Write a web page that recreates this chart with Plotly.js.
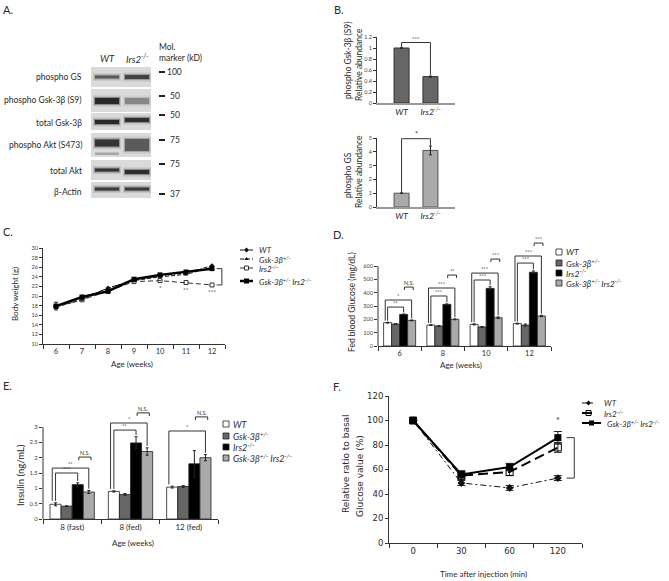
<!DOCTYPE html>
<html><head><meta charset="utf-8">
<script src="https://cdn.plot.ly/plotly-3.0.1.min.js"></script>
<style>html,body{margin:0;padding:0;background:#fff}#chart{width:669px;height:581px}</style>
</head><body><div id="chart"></div>
<script>
// ================= DATA =================
// A: western blot
const blotRows=['phospho GS','phospho Gsk-3β (S9)','total Gsk-3β','phospho Akt (S473)','total Akt','β-Actin'];
const blotLanes=['WT','Irs2<sup>-/-</sup>'];
const markerKD=['100','50','50','75','75','37'];
const bandWT=[0.6,0.95,0.95,0.85,0.85,0.8];
const bandIrs2=[0.75,0.35,0.9,0.6,0.9,0.8];
// B
const bGroups=['WT','Irs2<sup>-/-</sup>'];
const bGsk=[1.0,0.48], bGskErr=[0,0.01];
const bGS=[1.0,4.1], bGSErr=[0,0.32];
// C
const cAges=['6','7','8','9','10','11','12'];
const cWT=[17.8,19.6,21.6,23.3,24.2,24.8,26.3];
const cGsk=[17.7,19.2,21.7,23.2,24.0,24.5,26.0];
const cIrs2=[17.8,19.2,21.0,23.0,23.2,22.8,22.3];
const cDbl=[17.9,19.8,21.0,23.5,24.4,25.0,25.7];
const cDblErr=[0.8,0.3,0.3,0.3,0.3,0.3,0.3];
const cSig=['','','','','*','**','***'];
// D
const dAges=['6','8','10','12'];
const dWT=[175,157,162,168], dWTErr=[3,3,4,3];
const dGsk=[165,150,143,157], dGskErr=[2,2,3,8];
const dIrs2=[237,312,432,553], dIrs2Err=[3,4,12,10];
const dDbl=[192,200,212,225], dDblErr=[3,3,6,5];
const dBrGroup=[0,0,0,1,1,1,2,2,2,3,3,3];
const dBrFrom=[0,0,2,0,0,2,0,0,2,0,0,2];
const dBrTo=[2,3,3,2,3,3,2,3,3,2,3,3];
const dBrLevel=[292,345,442,375,435,532,495,547,652,622,675,772];
const dBrLabel=['**','*','N.S.','***','***','**','***','***','***','***','***','***'];
// E
const eGroups=['8 (fast)','8 (fed)','12 (fed)'];
const eWT=[0.48,0.90,1.04], eWTErr=[0.05,0.02,0.03];
const eGsk=[0.42,0.80,1.06], eGskErr=[0.01,0.03,0.03];
const eIrs2=[1.12,2.48,1.80], eIrs2Err=[0.06,0.20,0.43];
const eDbl=[0.88,2.20,2.00], eDblErr=[0.05,0.12,0.10];
const eBrGroup=[0,0,0,1,1,1,2,2];
const eBrFrom=[0,0,2,0,0,2,0,2];
const eBrTo=[2,3,3,2,3,3,3,3];
const eBrLevel=[1.50,1.66,2.02,2.90,3.13,3.46,2.87,3.33];
const eBrLabel=['***','**','N.S.','**','*','N.S.','*','N.S.'];
// F
const fTimes=['0','30','60','120'];
const fWT=[100,49,45,53], fWTErr=[0,2,2,2];
const fIrs2=[100,55,58,78], fIrs2Err=[0,3,3,4];
const fDbl=[100,56,62,86], fDblErr=[0,3,3,5];
const fSig=['','','','*'];
// series names
const nWT='WT', nGsk='Gsk-3β<sup>+/-</sup>', nIrs2='Irs2<sup>-/-</sup>', nDbl='Gsk-3β<sup>+/-</sup> Irs2<sup>-/-</sup>';

// ================= HELPERS =================
const W=669,H=581, fx=p=>p/W, fy=p=>1-p/H;
const FONT='Lato, "Liberation Sans", Arial, sans-serif';
const VFONT='"DejaVu Sans", Verdana, sans-serif';
const INK='#2a2a2a';
const traces=[], shapes=[], ann=[];
const idx=a=>a.map((_,i)=>i);
const it=s=>'<i>'+s+'</i>';

function txt(text,x,y,opt={}){
  const f=Object.assign({family:FONT,size:8.5,color:INK},opt.font||{});
  const a=Object.assign({text,x:fx(x),y:fy(y),xref:'paper',yref:'paper',showarrow:false,xanchor:'center',yanchor:'middle',borderpad:0},opt);
  a.font=f; ann.push(a);
}
function seg(xr,yr,x0,y0,x1,y1,w=1,c='#333'){shapes.push({type:'line',xref:xr,yref:yr,x0,y0,x1,y1,line:{color:c,width:w},layer:'above'});}
function rectP(x0,y0,x1,y1,color,op){shapes.push({type:'rect',xref:'paper',yref:'paper',x0:fx(x0),x1:fx(x1),y0:fy(y1),y1:fy(y0),fillcolor:color,opacity:op,line:{width:0},layer:'above'});}
function sig(xr,yr,x,y,text,size=6,anchor='bottom'){ann.push({xref:xr,yref:yr,x,y,text,showarrow:false,xanchor:'center',yanchor:anchor,borderpad:0,yshift:anchor==='bottom'?0:0,font:{family:FONT,size,color:'#333'}});}
function bracket(xr,yr,xa,ya,xb,yb,level,label,size){
  seg(xr,yr,xa,ya,xa,level); seg(xr,yr,xa,level,xb,level); seg(xr,yr,xb,level,xb,yb);
  if(label) sig(xr,yr,(xa+xb)/2,level,label,size);
}

// ================= PANEL LABELS =================
txt('A.',2,10,{xanchor:'left',font:{size:11}});
txt('B.',333,10,{xanchor:'left',font:{size:11}});
txt('C.',2,231,{xanchor:'left',font:{size:11}});
txt('D.',332,234,{xanchor:'left',font:{size:11}});
txt('E.',2,385,{xanchor:'left',font:{size:11}});
txt('F.',332,386,{xanchor:'left',font:{size:11}});

// ================= PANEL A (blot) =================
const blot={x0:91,x1:151,lanes:[107,137],half:13,
  rows:[[67,87],[89,112],[113,130],[133,157],[160,180],[182,198]],
  bandY:[[77,77],[101,101],[122,120],[143,145],[170,172],[189,189]],
  bandH:[[1.5,2],[3,3],[2,2],[3.5,6],[1.5,2],[1.5,1.5]],
  labelY:[77,100,123,145,171,192], kdY:[72,96,115,140,164,194]};
blot.rows.forEach((r,i)=>{
  rectP(blot.x0,r[0],blot.x1,r[1],'#dadada',1);
  const ints=[bandWT[i],bandIrs2[i]];
  blot.lanes.forEach((lx,j)=>{
    const yc=blot.bandY[i][j], h=blot.bandH[i][j], v=ints[j];
    rectP(lx-blot.half-1,yc-h-2.5,lx+blot.half+1,yc+h+2.5,'#555',0.2*v);
    rectP(lx-blot.half,yc-h-1,lx+blot.half,yc+h+1,'#333',0.4*v);
    rectP(lx-blot.half+1,yc-h,lx+blot.half-1,yc+h,'#111',0.85*v);
  });
  txt(blotRows[i],83,blot.labelY[i],{xanchor:'right',font:{size:8.5}});
  seg('paper','paper',fx(159),fy(blot.kdY[i]),fx(165),fy(blot.kdY[i]),2,'#222');
  txt(markerKD[i],markerKD[i].length>2?166:169,blot.kdY[i],{xanchor:'left',font:{size:8.5}});
});
rectP(95,152.5,119,155,'#333',0.3);
txt(it(blotLanes[0]),107,58,{font:{size:9.5}});
txt(it(blotLanes[1]),137,58,{font:{size:9.5}});
txt('Mol.',158,47,{xanchor:'left',font:{size:8.5}});
txt('marker (kD)',158,58,{xanchor:'left',font:{size:8.5}});

// ================= AXES =================
const axBase={showgrid:false,zeroline:false,showline:true,linecolor:'#333',linewidth:1,ticks:'outside',ticklen:3,tickwidth:1,tickcolor:'#333',fixedrange:true,tickfont:{family:FONT,size:6,color:'#333'}};
const ax=o=>Object.assign({},axBase,o);
const boundaries=n=>Array.from({length:n+1},(_,i)=>i-0.5);
const catX=(labels,dom,anchor,font)=>ax({domain:dom,range:[-0.5,labels.length-0.5],tickmode:'array',tickvals:idx(labels),ticktext:labels,ticklen:0,anchor,
  tickfont:font||{family:FONT,size:7.5,color:INK},minor:{tickmode:'array',tickvals:boundaries(labels.length),ticks:'outside',ticklen:4,tickcolor:'#333'}});

const layout={width:W,height:H,margin:{l:0,r:0,t:0,b:0},paper_bgcolor:'#fff',plot_bgcolor:'rgba(0,0,0,0)',showlegend:false,font:{family:FONT,color:INK},
  barmode:'overlay',
  xaxis: ax({domain:[fx(377),fx(455)],range:[-0.85,1.85],tickmode:'array',tickvals:[0,1],ticktext:bGroups.map(it),ticks:'',anchor:'y',linecolor:'#999',linewidth:1.5,tickfont:{family:FONT,size:8.5,color:INK}}),
  yaxis: ax({domain:[fy(103),fy(37)],range:[0,1.2],dtick:0.2,anchor:'x',tickfont:{family:FONT,size:5.5,color:'#444'}}),
  xaxis2: ax({domain:[fx(377),fx(455)],range:[-0.85,1.85],tickmode:'array',tickvals:[0,1],ticktext:bGroups.map(it),ticks:'',anchor:'y2',linecolor:'#999',linewidth:1.5,tickfont:{family:FONT,size:8.5,color:INK}}),
  yaxis2: ax({domain:[fy(207),fy(138)],range:[0,5],dtick:1,anchor:'x2',tickfont:{family:FONT,size:5.5,color:'#444'}}),
  xaxis3: catX(cAges,[fx(43),fx(225)],'y3'),
  yaxis3: ax({domain:[fy(344),fy(248)],range:[10,30],dtick:2,anchor:'x3',tickfont:{family:FONT,size:5.5,color:'#444'}}),
  xaxis4: catX(dAges,[fx(378),fx(551)],'y4'),
  yaxis4: ax({domain:[fy(346),fy(238)],range:[0,810],tickmode:'array',tickvals:[0,100,200,300,400,500,600],showline:false,anchor:'x4',tickfont:{family:FONT,size:5.5,color:'#444'}}),
  xaxis5: catX(eGroups,[fx(43),fx(218)],'y5',{family:FONT,size:8,color:INK}),
  yaxis5: ax({domain:[fy(519),fy(404)],range:[0,3.75],tickmode:'array',tickvals:[0,0.5,1,1.5,2,2.5,3],showline:false,anchor:'x5',tickfont:{family:FONT,size:6,color:'#444'}}),
  xaxis6: catX(fTimes,[fx(389),fx(582)],'y6',{family:VFONT,size:8.5,color:INK}),
  yaxis6: ax({domain:[fy(543),fy(396)],range:[0,120],dtick:20,anchor:'x6',tickfont:{family:VFONT,size:8.5,color:INK}}),
  xaxis7: {domain:[0,1],range:[0,W],visible:false,fixedrange:true,anchor:'y7'},
  yaxis7: {domain:[0,1],range:[H,0],visible:false,fixedrange:true,anchor:'x7'},
  shapes, annotations:ann};
// axis lines for D and E stop at the last tick
seg('x4 domain','y4',0,0,0,600,1,'#333');
seg('x5 domain','y5',0,0,0,3,1,'#333');

const err=(a,w=2)=>({type:'data',array:a,visible:true,color:'#222',thickness:1,width:w});

// ================= PANEL B =================
traces.push({type:'bar',x:[0,1],y:bGsk,width:0.52,xaxis:'x',yaxis:'y',marker:{color:'#666',line:{color:'#333',width:1}},error_y:err(bGskErr,1.5),hoverinfo:'skip'});
traces.push({type:'bar',x:[0,1],y:bGS,width:0.52,xaxis:'x2',yaxis:'y2',marker:{color:'#aaa',line:{color:'#555',width:1}},error_y:err(bGSErr,1.5),hoverinfo:'skip'});
bracket('x','y',0,bGsk[0],1,bGsk[1]+bGskErr[1]+0.02,1.1,'***',6);
bracket('x2','y2',0,bGS[0],1,bGS[1]+bGSErr[1]+0.05,4.95,'*',7);
txt('phospho Gsk-3β (S9)',348,60,{textangle:-90,font:{size:8.5}});
txt('Relative abundance',359,65,{textangle:-90,font:{size:8.5}});
txt('phospho GS',348,175,{textangle:-90,font:{size:8.5}});
txt('Relative abundance',359,172,{textangle:-90,font:{size:8.5}});

// ================= PANEL C =================
const cStyle=[
  {name:nWT,y:cWT,line:{color:'#111',width:1,dash:'4px,2px,1px,2px'},marker:{symbol:'diamond',size:4,color:'#111'}},
  {name:nGsk,y:cGsk,line:{color:'#111',width:1,dash:'4px,2px'},marker:{symbol:'triangle-up',size:4,color:'#111'}},
  {name:nIrs2,y:cIrs2,line:{color:'#333',width:1,dash:'5px,3px'},marker:{symbol:'square-open',size:4,color:'#333',line:{width:1}}},
  {name:nDbl,y:cDbl,line:{color:'#000',width:2.5},marker:{symbol:'square',size:5,color:'#000'},err:cDblErr}];
cStyle.forEach(s=>traces.push({type:'scatter',mode:'lines+markers',x:idx(cAges),y:s.y,xaxis:'x3',yaxis:'y3',line:s.line,marker:s.marker,
  error_y:s.err?err(s.err,2):undefined,hoverinfo:'skip'}));
cSig.forEach((s,i)=>{ if(s) sig('x3','y3',i,cIrs2[i]-0.5,s,6.5,'top'); });
{ const xr=6.38, xt=6.18, top=cDbl[6], bot=cIrs2[6];
  seg('x3','y3',xt,top,xr,top); seg('x3','y3',xr,top,xr,bot); seg('x3','y3',xt,bot,xr,bot); }
txt('Body weight (g)',15,294,{textangle:-90,font:{size:8}});
txt('Age (weeks)',132,364,{font:{size:8}});
// legend C
const legC=[250,259,268,281];
cStyle.forEach((s,i)=>{
  traces.push({type:'scatter',mode:'lines',x:[240,253],y:[legC[i],legC[i]],xaxis:'x7',yaxis:'y7',line:s.line,hoverinfo:'skip'});
  traces.push({type:'scatter',mode:'markers',x:[246.5],y:[legC[i]],xaxis:'x7',yaxis:'y7',marker:s.marker,hoverinfo:'skip'});
  txt(it(s.name),258,legC[i],{xanchor:'left',font:{size:8}});
});

// ================= BAR STYLES (D,E) =================
const barCols=['#ffffff','#666666','#000000','#aaaaaa'];
const barNames=[nWT,nGsk,nIrs2,nDbl];
const barX=(g,k,w)=>g-2*w+(k+0.5)*w;
function groupedBars(vals,errs,xa,ya,w){
  vals.forEach((v,k)=>traces.push({type:'bar',x:idx(v),y:v,width:w,offset:-2*w+k*w,xaxis:xa,yaxis:ya,
    marker:{color:barCols[k],line:{color:'#222',width:0.8}},error_y:err(errs[k],1.5),hoverinfo:'skip'}));
}
function groupedBrackets(vals,errs,G,F,T,L,Lab,xa,ya,w,pad,hook){
  G.forEach((g,i)=>{
    const a=F[i], b=T[i], short=(a===2&&b===3);
    let x0=barX(g,a,w), x1=barX(g,b,w);
    if(a===0&&b===3) x0-=0.3*w;
    if(short){x0+=0.1*w; x1+=0.2*w;}
    const y0=short?L[i]-hook:vals[a][g]+errs[a][g]+pad;
    const y1=short?L[i]-hook:vals[b][g]+errs[b][g]+pad;
    bracket(xa,ya,x0,y0,x1,y1,L[i],Lab[i],5.5);
  });
}

// ================= PANEL D =================
const dVals=[dWT,dGsk,dIrs2,dDbl], dErrs=[dWTErr,dGskErr,dIrs2Err,dDblErr];
const wD=0.185;
groupedBars(dVals,dErrs,'x4','y4',wD);
groupedBrackets(dVals,dErrs,dBrGroup,dBrFrom,dBrTo,dBrLevel,dBrLabel,'x4','y4',wD,12,22);
txt('Fed blood Glucose (mg/dL)',352,302,{textangle:-90,font:{size:8.5}});
txt('Age (weeks)',461,365,{font:{size:8}});
const legD=[252,263,273,283];
barNames.forEach((n,k)=>{
  traces.push({type:'scatter',mode:'markers',x:[559],y:[legD[k]],xaxis:'x7',yaxis:'y7',marker:{symbol:'square',size:6,color:barCols[k],line:{color:'#222',width:0.8}},hoverinfo:'skip'});
  txt(it(n),565,legD[k],{xanchor:'left',font:{size:8.5}});
});

// ================= PANEL E =================
const eVals=[eWT,eGsk,eIrs2,eDbl], eErrs=[eWTErr,eGskErr,eIrs2Err,eDblErr];
const wE=0.19;
groupedBars(eVals,eErrs,'x5','y5',wE);
groupedBrackets(eVals,eErrs,eBrGroup,eBrFrom,eBrTo,eBrLevel,eBrLabel,'x5','y5',wE,0.06,0.1);
txt('Insulin (ng/mL)',20,475,{textangle:-90,font:{size:9.5}});
txt('Age (weeks)',133,543,{font:{size:8}});
const legE=[424,436,447,458];
barNames.forEach((n,k)=>{
  traces.push({type:'scatter',mode:'markers',x:[226],y:[legE[k]],xaxis:'x7',yaxis:'y7',marker:{symbol:'square',size:6,color:barCols[k],line:{color:'#222',width:0.8}},hoverinfo:'skip'});
  txt(it(n),232,legE[k],{xanchor:'left',font:{size:9}});
});

// ================= PANEL F =================
const fStyle=[
  {name:nWT,y:fWT,e:fWTErr,line:{color:'#111',width:1,dash:'6px,3px,2px,3px'},marker:{symbol:'diamond',size:6,color:'#111'}},
  {name:nIrs2,y:fIrs2,e:fIrs2Err,line:{color:'#000',width:2,dash:'10px,5px'},marker:{symbol:'square-open',size:7,color:'#000',line:{width:1}}},
  {name:nDbl,y:fDbl,e:fDblErr,line:{color:'#000',width:2},marker:{symbol:'square',size:7,color:'#000'}}];
fStyle.forEach(s=>traces.push({type:'scatter',mode:'lines+markers',x:idx(fTimes),y:s.y,xaxis:'x6',yaxis:'y6',line:s.line,marker:s.marker,error_y:err(s.e,4),hoverinfo:'skip'}));
fSig.forEach((s,i)=>{ if(s) sig('x6','y6',i,fDbl[i]+fDblErr[i]+4,s,9); });
{ const xr=3.34, xt=3.18, top=fDbl[3], bot=fWT[3];
  seg('x6','y6',xt,top,xr,top); seg('x6','y6',xr,top,xr,bot); seg('x6','y6',xt,bot,xr,bot); }
txt('Relative ratio to basal',346,464,{textangle:-90,font:{family:VFONT,size:9}});
txt('Glucose value (%)',360,476,{textangle:-90,font:{family:VFONT,size:9}});
txt('Time after injection (min)',483,574,{font:{size:8}});
const legF=[403,413,423];
fStyle.forEach((s,i)=>{
  const xe=i===2?601:595;
  traces.push({type:'scatter',mode:'lines',x:[582,xe],y:[legF[i],legF[i]],xaxis:'x7',yaxis:'y7',line:Object.assign({},s.line,{width:s.line.width}),hoverinfo:'skip'});
  traces.push({type:'scatter',mode:'markers',x:[(582+xe)/2],y:[legF[i]],xaxis:'x7',yaxis:'y7',marker:Object.assign({},s.marker,{size:s.marker.size-2}),hoverinfo:'skip'});
  txt(it(s.name),i===2?606:603,legF[i],{xanchor:'left',font:{size:8}});
});

Plotly.newPlot('chart',traces,layout,{displayModeBar:false,staticPlot:true});
</script></body></html>
